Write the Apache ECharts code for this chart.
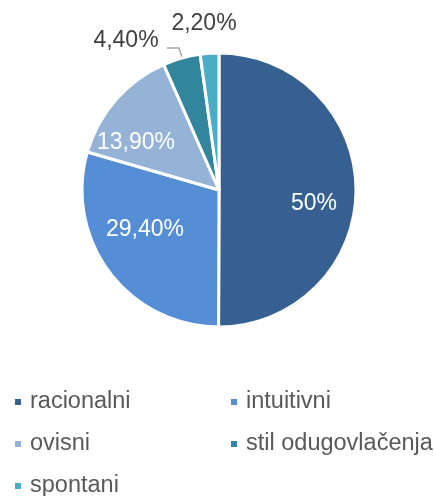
<!DOCTYPE html>
<html>
<head>
<meta charset="utf-8">
<script src="https://cdn.jsdelivr.net/npm/echarts@6/dist/echarts.min.js"></script>
<style>
	html, body { margin: 0; padding: 0; background: #ffffff; }
	#chart { width: 435px; height: 496px; }
</style>
</head>
<body>
<div id="chart"></div>
<script>
	var categories = ['racionalni', 'intuitivni', 'ovisni', 'stil odugovlačenja', 'spontani'];
	var values = [50, 29.4, 13.9, 4.4, 2.2];
	var valueLabels = ['50%', '29,40%', '13,90%', '4,40%', '2,20%'];
	var colors = ['#376092', '#558ed5', '#95b3d7', '#31859c', '#4bacc6'];

	// where the label text sits (centre), Excel style
	var labelSpots = [[314, 204], [145, 230], [136, 143], [126, 41], [204, 24]];

	var pieData = categories.map(function (name, i) {
		var outside = i >= 3;
		return {
			name: name,
			value: values[i],
			label: {
				position: outside ? 'outside' : 'inside',
				color: outside ? '#404040' : '#ffffff'
			},
			labelLine: {
				show: i === 3,
				lineStyle: { color: '#a6a6a6', width: 1.5 }
			}
		};
	});

	var legendText = { fontSize: 23.5, color: '#595959', padding: [0, 0, 0, 3] };

	var chart = echarts.init(document.getElementById('chart'));
	var option = {
		animation: false,
		color: colors,
		textStyle: { fontFamily: '"Liberation Sans", Arial, sans-serif' },
		legend: [{
			orient: 'vertical',
			left: 13,
			top: 390,
			height: 130,
			padding: 0,
			data: ['racionalni', 'ovisni', 'spontani'],
			icon: 'rect',
			itemWidth: 8,
			itemHeight: 8,
			itemGap: 18,
			textStyle: legendText
		}, {
			orient: 'vertical',
			left: 229,
			top: 390,
			height: 130,
			padding: 0,
			data: ['intuitivni', 'stil odugovlačenja'],
			icon: 'rect',
			itemWidth: 8,
			itemHeight: 8,
			itemGap: 18,
			textStyle: legendText
		}],
		series: [{
			type: 'pie',
			center: [219, 190],
			radius: [0, 137],
			startAngle: 90,
			clockwise: true,
			data: pieData,
			itemStyle: { borderColor: '#ffffff', borderWidth: 3 },
			label: {
				fontSize: 23,
				formatter: function (p) { return valueLabels[p.dataIndex]; }
			},
			labelLine: { length: 6, length2: 10 },
			labelLayout: function (params) {
				var s = labelSpots[params.dataIndex];
				var w = params.labelRect.width, h = params.labelRect.height;
				var out = { x: s[0] - w / 2, y: s[1] - h / 2, align: 'left', verticalAlign: 'top' };
				if (params.dataIndex === 3) {
					out.labelLinePoints = [[167, 48], [179, 48], [182, 57]];
				}
				return out;
			}
		}]
	};
	chart.setOption(option);
</script>
</body>
</html>
